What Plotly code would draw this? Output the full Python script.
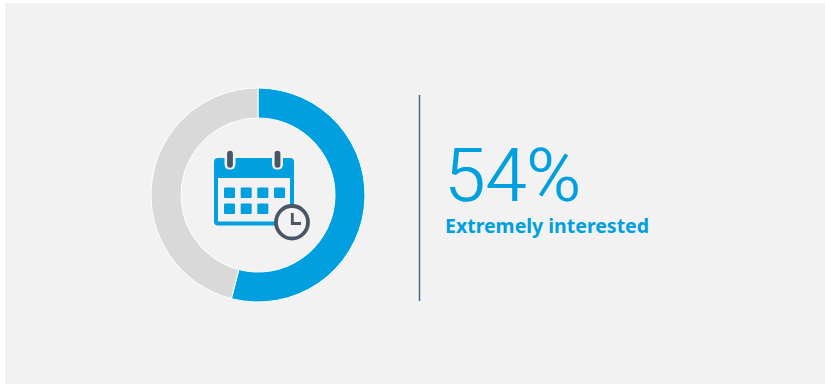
import plotly.graph_objects as go

# Survey result shown in the ring and the headline
categories = ["Extremely interested", "Other"]
values = [54, 46]
headline = f"{values[0]}%"
caption = categories[0]

BLUE = "#009FE0"
GREY = "#D9D9D9"
PANEL = "#F2F2F2"
DARK = "#4A5565"
W, H = 825, 384

# Ring geometry in pixels
cx, cy, r = 258, 195, 107

fig = go.Figure(go.Pie(
    labels=categories,
    values=values,
    hole=0.72,
    sort=False,
    direction="clockwise",
    rotation=0,
    textinfo="none",
    hoverinfo="skip",
    showlegend=False,
    marker=dict(colors=[BLUE, GREY], line=dict(color="#FFFFFF", width=1)),
    domain=dict(x=[(cx - r) / W, (cx + r) / W], y=[1 - (cy + r) / H, 1 - (cy - r) / H]),
))

shapes = []


def rect(x0, y0, x1, y1, fill, layer="above"):
    shapes.append(dict(type="rect", xref="x", yref="y", x0=x0, y0=y0, x1=x1, y1=y1,
                       fillcolor=fill, line=dict(width=0), layer=layer))


def rounded(x0, y0, x1, y1, rad, fill, line=None):
    path = (f"M{x0 + rad},{y0} L{x1 - rad},{y0} Q{x1},{y0} {x1},{y0 + rad} "
            f"L{x1},{y1 - rad} Q{x1},{y1} {x1 - rad},{y1} L{x0 + rad},{y1} "
            f"Q{x0},{y1} {x0},{y1 - rad} L{x0},{y0 + rad} Q{x0},{y0} {x0 + rad},{y0} Z")
    shapes.append(dict(type="path", xref="x", yref="y", path=path, fillcolor=fill,
                       line=line or dict(width=0), layer="above"))


# Background panel, leaving a thin white edge at the top and left
rect(5, 3, W, H, PANEL, layer="below")

# Divider between the ring and the text
shapes.append(dict(type="line", xref="x", yref="y", x0=419.5, x1=419.5, y0=95, y1=301,
                   line=dict(color="#44688C", width=1.5), layer="above"))

# Calendar icon
rounded(214, 158, 294, 225.5, 4, BLUE)
rect(218, 178, 290, 221.5, PANEL)
for sx in (224, 240.7, 257.3, 274):
    rounded(sx, 187.5, sx + 11, 198, 1, BLUE)
for sx in (224, 240.7, 257.3):
    rounded(sx, 203.5, sx + 11, 214, 1, BLUE)
for rx in (230, 277.5):
    rounded(rx - 5.5, 149, rx + 5.5, 169.5, 5.5, PANEL)
    rounded(rx - 2.9, 150.7, rx + 2.9, 167.7, 2.9, DARK)

# Clock badge over the calendar corner
shapes.append(dict(type="circle", xref="x", yref="y", x0=276, x1=308, y0=206, y1=238.5,
                   fillcolor=PANEL, line=dict(color=DARK, width=3.8), layer="above"))
shapes.append(dict(type="path", xref="x", yref="y", path="M292.3,213 L292.3,223.5 L301,223.5",
                   line=dict(color=DARK, width=2.8), layer="above"))

fig.update_layout(
    width=W,
    height=H,
    margin=dict(l=0, r=0, t=0, b=0),
    paper_bgcolor="#FFFFFF",
    plot_bgcolor="rgba(0,0,0,0)",
    xaxis=dict(range=[0, W], visible=False, fixedrange=True),
    yaxis=dict(range=[H, 0], visible=False, fixedrange=True),
    shapes=shapes,
    annotations=[
        dict(x=442, y=175, xref="x", yref="y", text=headline, showarrow=False,
             xanchor="left", yanchor="middle", height=66,
             font=dict(family="Roboto", size=74, color=BLUE, weight=300,
                       shadow="0.7px 0 0 #009FE0")),
        dict(x=443, y=225.5, xref="x", yref="y", text=caption, showarrow=False,
             xanchor="left", yanchor="middle",
             font=dict(family="Noto Sans", size=19.5, color=BLUE, weight=700)),
    ],
)

fig.write_html("out.html", config=dict(displayModeBar=False))
